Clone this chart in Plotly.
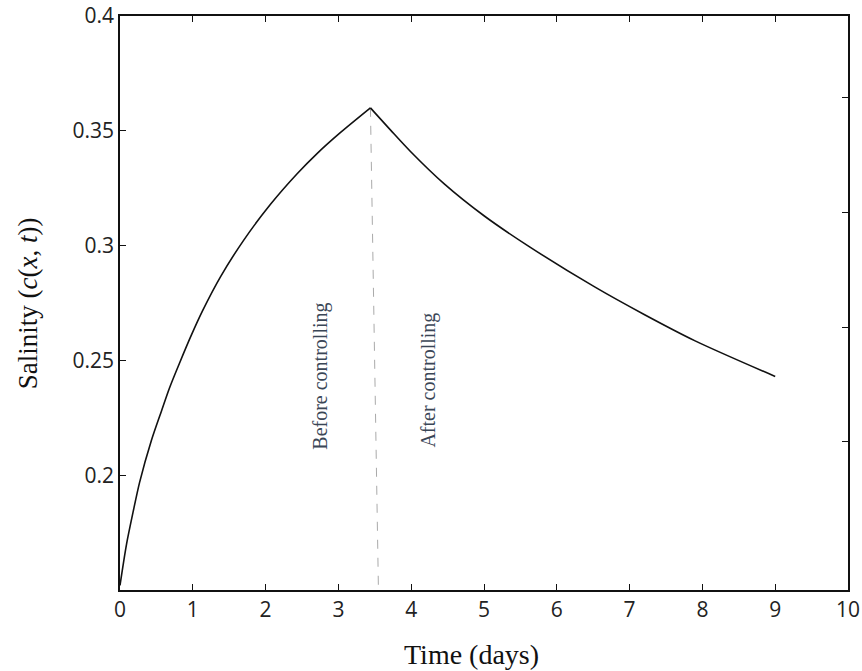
import plotly.graph_objects as go

# Salinity before controlling (rising phase)
t_before = [0.0, 0.09, 0.18, 0.27, 0.43, 0.57, 0.68, 0.82, 0.98, 1.14, 1.38, 1.70, 2.07, 2.43, 2.71, 3.03, 3.44]
c_before = [0.152, 0.170, 0.184, 0.197, 0.215, 0.228, 0.238, 0.249, 0.261, 0.272, 0.2864, 0.3024, 0.3181, 0.3312, 0.3402, 0.3493, 0.360]

# Salinity after controlling (decay phase)
t_after = [3.44, 3.72, 3.99, 4.45, 5.0, 5.6, 6.52, 7.2, 7.9, 9.0]
c_after = [0.360, 0.3502, 0.341, 0.327, 0.313, 0.300, 0.282, 0.270, 0.2585, 0.243]

# Separator line between phases
sep_t = [3.44, 3.55]
sep_c = [0.360, 0.150]

x_ticks = [0, 1, 2, 3, 4, 5, 6, 7, 8, 9, 10]
y_ticks = [0.2, 0.25, 0.3, 0.35, 0.4]
y_tick_text = ["0.2", "0.25", "0.3", "0.35", "0.4"]
right_ticks = [0.2, 0.25, 0.3, 0.35]

fig = go.Figure()
fig.add_trace(go.Scatter(x=sep_t, y=sep_c, mode="lines",
                         line=dict(color="#aaaaaa", width=1, dash="dash"),
                         hoverinfo="skip", showlegend=False))
fig.add_trace(go.Scatter(x=t_before, y=c_before, mode="lines",
                         line=dict(color="#111111", width=1.6, shape="spline", smoothing=0.8),
                         showlegend=False))
fig.add_trace(go.Scatter(x=t_after, y=c_after, mode="lines",
                         line=dict(color="#111111", width=1.6, shape="spline", smoothing=0.8),
                         showlegend=False))
# invisible trace to activate right axis
fig.add_trace(go.Scatter(x=[None], y=[None], yaxis="y2", showlegend=False))

serif = "Liberation Serif, Times New Roman, serif"
sans = "Open Sans, Liberation Sans, sans-serif"

fig.update_layout(
    template="none",
    width=862, height=671,
    margin=dict(l=120, r=14, t=16, b=81),
    plot_bgcolor="white", paper_bgcolor="white",
    xaxis=dict(range=[0, 10], tickvals=x_ticks, ticktext=[str(v) for v in x_ticks],
               ticks="inside", ticklen=6, tickwidth=1.2, tickcolor="#111",
               showline=True, linecolor="#111", linewidth=1.5, mirror="ticks",
               showgrid=False, zeroline=False, automargin=False,
               tickfont=dict(family=sans, size=21, color="#222")),
    yaxis=dict(range=[0.15, 0.4], tickvals=y_ticks, ticktext=y_tick_text,
               ticks="inside", ticklen=6, tickwidth=1.2, tickcolor="#111",
               showline=True, linecolor="#111", linewidth=1.5, mirror=False,
               showgrid=False, zeroline=False, automargin=False,
               tickfont=dict(family=sans, size=21, color="#222")),
    yaxis2=dict(range=[0.1355, 0.3855], overlaying="y", side="right",
                tickvals=right_ticks, showticklabels=False,
                ticks="inside", ticklen=6, tickwidth=1.2, tickcolor="#111",
                showline=True, linecolor="#111", linewidth=1.5,
                showgrid=False, zeroline=False, automargin=False),
    annotations=[
        dict(text="Salinity (<i>c</i>(<i>x</i>, <i>t</i>))", xref="paper", yref="paper",
             x=-0.126, y=0.5, textangle=-90, showarrow=False, xanchor="center", yanchor="middle",
             font=dict(family=serif, size=27, color="#111")),
        dict(text="Time (days)", x=4.83, xref="x", yref="paper", y=-0.113,
             showarrow=False, xanchor="center", yanchor="middle",
             font=dict(family=serif, size=28, color="#111")),
        dict(text="Before controlling", x=2.75, y=0.243, textangle=-90, showarrow=False,
             font=dict(family=serif, size=20, color="#3a4656")),
        dict(text="After controlling", x=4.24, y=0.2415, textangle=-90, showarrow=False,
             font=dict(family=serif, size=20, color="#3a4656")),
    ],
)

fig.write_html("out.html", config={"displayModeBar": False},
               post_script="document.body.style.margin='0';document.body.style.overflow='hidden';")
